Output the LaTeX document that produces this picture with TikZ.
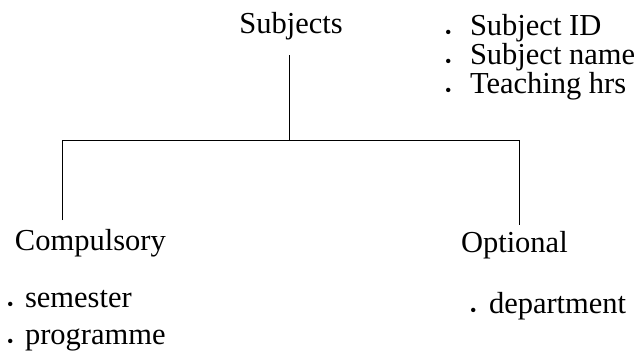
\documentclass[tikz,border=0pt]{standalone}
\usepackage{fontspec}
\setmainfont{Liberation Serif}
\newcommand{\bul}[1]{\makebox[#1][l]{\raisebox{-3pt}{\scalebox{0.6}{\textbullet}}}}
\begin{document}
\begin{tikzpicture}[x=1pt,y=-1pt,
  lbl/.style={inner sep=0pt, outer sep=0pt, font=\fontsize{30.5}{36}\selectfont},
  conn/.style={line width=0.9pt, black}]
\useasboundingbox (0,0) rectangle (643,356);
% nodes
\node[lbl, anchor=base] (subj) at (291,33) {Subjects};
\node[lbl, anchor=base west] (id) at (445,35) {\bul{25pt}Subject ID};
\node[lbl, anchor=base west] (name) at (445,64) {\bul{25pt}Subject name};
\node[lbl, anchor=base west] (teach) at (445,93) {\bul{25pt}Teaching hrs};
\node[lbl, anchor=base west] (comp) at (15,250) {Compulsory};
\node[lbl, anchor=base west] (opt) at (461,252) {Optional};
\node[lbl, anchor=base west] (sem) at (7,307) {\bul{18pt}semester};
\node[lbl, anchor=base west] (prog) at (7,344) {\bul{18pt}programme};
\node[lbl, anchor=base west] (dep) at (470,313) {\bul{19pt}department};
% connector geometry
\coordinate (j) at (289,140);
\coordinate (l) at (62,140);
\coordinate (r) at (519,140);
\coordinate (le) at (62,220);
\coordinate (re) at (519,225);
\draw[conn] (subj.south -| j) ++(0,16) -- (j);
\draw[conn] (le) -- (l) -- (r) -- (re);
\end{tikzpicture}
\end{document}
